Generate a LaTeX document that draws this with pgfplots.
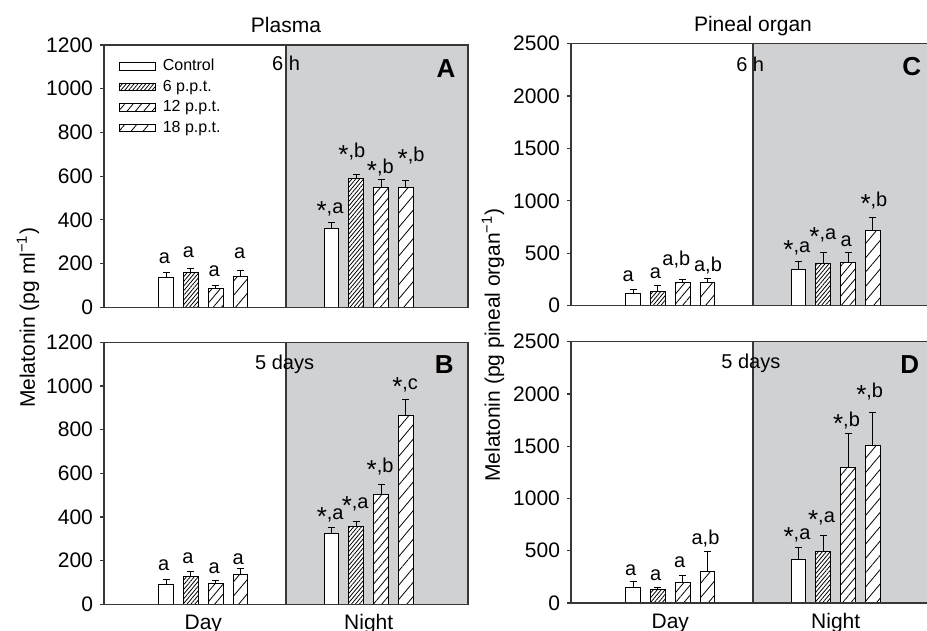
\documentclass[border=0pt]{standalone}
\usepackage{fontspec}
\setmainfont{Liberation Sans}
\usepackage{pgfplots}
\pgfplotsset{compat=1.18}
\usetikzlibrary{patterns.meta}
\definecolor{nightgray}{RGB}{208,209,211}
\definecolor{axgray}{RGB}{55,55,55}
\newcommand{\fs}{\fontsize{10.5}{12}\selectfont}
\newcommand{\fl}{\fontsize{10}{12}\selectfont}
\newcommand{\fp}{\fontsize{13}{15}\selectfont\bfseries}
\newcommand{\st}{\raisebox{-0.3em}{\scalebox{1.3}{*}}}
\tikzset{
  sCtrl/.style={fill=white,draw=black,line width=0.5pt},
  sSix/.style={fill=white,draw=black,line width=0.5pt,postaction={pattern={Lines[angle=50,distance=1.5pt,line width=0.4pt]}}},
  sTwelve/.style={fill=white,draw=black,line width=0.5pt,postaction={pattern={Lines[angle=50,distance=3.2pt,line width=0.4pt]}}},
  sEighteen/.style={fill=white,draw=black,line width=0.5pt,postaction={pattern={Lines[angle=50,distance=4.6pt,line width=0.4pt]}}},
}
\pgfplotsset{
  panel/.style={
    scale only axis, width=182pt, height=131pt,
    xmin=-0.6, xmax=1.6, ymin=0,
    axis line style={axgray, line width=0.6pt},
    tick align=outside, ytick pos=left, major tick length=2pt,
    ytick style={axgray, line width=0.6pt},
    xtick=\empty,
    /pgf/number format/assume math mode=true,
    /pgf/number format/1000 sep={},
    tick label style={font=\fs},
    axis on top, clip=false,
    title style={font=\fs, anchor=base, at={(0.5,1)}, yshift=0pt},
  },
  daynight/.style={
    xtick={0,1}, xticklabels={Day,Night}, xtick style={draw=none},
    xticklabel style={anchor=base, yshift=-10.6pt},
  },
  mybar/.style={
    ybar, bar width=0.09, bar shift=0pt,
    legend image code/.code={\draw[##1] (0pt,-1.8pt) rectangle (18pt,1.8pt); \path (20.5pt,0pt);},
    error bars/y dir=plus, error bars/y explicit,
    error bars/error bar style={black, line width=0.5pt},
    error bars/error mark options={rotate=90, black, line width=0.5pt, mark size=1.75pt},
  },
  labs/.style={
    forget plot, draw=none, mark=none, nodes near coords, point meta=explicit symbolic,
    nodes near coords style={anchor=base, font=\fl, inner sep=0pt},
  },
  night/.style={forget plot, fill=nightgray, draw=axgray, line width=0.6pt},
}
\begin{document}
\begin{tikzpicture}
% ---------------- Panel A
\begin{axis}[panel, at={(52pt,161.85pt)}, anchor=south west, height=131.15pt,
  ymax=1200, ytick={0,200,...,1200}, title={Plasma},
  legend style={at={(0.041,0.955)}, anchor=north west, draw=none, fill=none,
    font=\fontsize{8}{9}\selectfont, row sep=1pt, inner sep=0pt,
    nodes={inner sep=0.75pt, text height=6pt, text depth=1.75pt}},
  legend cell align=left]
\addplot[night] coordinates {(0.5,1200) (1.6,1200)} \closedcycle;
\addplot[mybar, sCtrl] coordinates {(-0.225,137) +- (0,24) (0.775,360) +- (0,26)};
\addlegendentry{Control}
\addplot[mybar, sSix] coordinates {(-0.075,160) +- (0,17) (0.925,587) +- (0,21)};
\addlegendentry{6 p.p.t.}
\addplot[mybar, sTwelve] coordinates {(0.075,88) +- (0,11) (1.075,547) +- (0,37)};
\addlegendentry{12 p.p.t.}
\addplot[mybar, sEighteen] coordinates {(0.225,143) +- (0,24) (1.225,550) +- (0,32)};
\addlegendentry{18 p.p.t.}
\addplot[labs] coordinates {(-0.234,201) [a] (-0.089,227) [a] (0.066,140) [a] (0.22,224) [a]
  (0.766,430) [{\st,a}] (0.898,685) [{\st,b}] (1.07,613) [{\st,b}] (1.256,669) [{\st,b}]};
\node[anchor=base, font=\fl] at (axis cs:0.5,1082) {6 h};
\node[anchor=base, font=\fp] at (axis cs:1.467,1052) {A};
\end{axis}
% ---------------- Panel B
\begin{axis}[panel, daynight, at={(52pt,13.35pt)}, anchor=south west,
  ymax=1200, ytick={0,200,...,1200}]
\addplot[night] coordinates {(0.5,1200) (1.6,1200)} \closedcycle;
\addplot[mybar, sCtrl] coordinates {(-0.225,90) +- (0,25) (0.775,324) +- (0,30)};
\addplot[mybar, sSix] coordinates {(-0.075,128) +- (0,22) (0.925,356) +- (0,24)};
\addplot[mybar, sTwelve] coordinates {(0.075,96) +- (0,11) (1.075,502) +- (0,48)};
\addplot[mybar, sEighteen] coordinates {(0.225,136) +- (0,26) (1.225,863) +- (0,76)};
\addplot[labs] coordinates {(-0.24,154) [a] (-0.092,185) [a] (0.066,142) [a] (0.211,180) [a]
  (0.767,389) [{\st,a}] (0.918,437) [{\st,a}] (1.069,605) [{\st,b}] (1.22,982) [{\st,c}]};
\node[anchor=base, font=\fl] at (axis cs:0.492,1076) {5 days};
\node[anchor=base, font=\fp] at (axis cs:1.456,1058) {B};
\end{axis}
% ---------------- Panel C
\begin{axis}[panel, at={(285.5pt,162.65pt)}, anchor=south west,
  ymax=2500, ytick={0,500,...,2500}, title={Pineal organ}]
\addplot[night] coordinates {(0.5,2500) (1.6,2500)} \closedcycle;
\addplot[mybar, sCtrl] coordinates {(-0.225,118) +- (0,35) (0.775,347) +- (0,76)};
\addplot[mybar, sSix] coordinates {(-0.075,140) +- (0,48) (0.925,398) +- (0,108)};
\addplot[mybar, sTwelve] coordinates {(0.075,223) +- (0,28) (1.075,413) +- (0,96)};
\addplot[mybar, sEighteen] coordinates {(0.225,226) +- (0,38) (1.225,719) +- (0,124)};
\addplot[labs] coordinates {(-0.255,235) [a] (-0.089,261) [a] (0.037,382) [{a,b}] (0.228,324) [{a,b}]
  (0.765,506) [{\st,a}] (0.922,633) [{\st,a}] (1.063,563) [a] (1.231,944) [{\st,b}]};
\node[anchor=base, font=\fl] at (axis cs:0.483,2239) {6 h};
\node[anchor=base, font=\fp] at (axis cs:1.459,2192) {C};
\end{axis}
% ---------------- Panel D
\begin{axis}[panel, daynight, at={(285.5pt,14pt)}, anchor=south west, height=130.65pt,
  ymax=2500, ytick={0,500,...,2500}]
\addplot[night] coordinates {(0.5,2500) (1.6,2500)} \closedcycle;
\addplot[mybar, sCtrl] coordinates {(-0.225,153) +- (0,54) (0.775,418) +- (0,115)};
\addplot[mybar, sSix] coordinates {(-0.075,131) +- (0,19) (0.925,491) +- (0,156)};
\addplot[mybar, sTwelve] coordinates {(0.075,198) +- (0,67) (1.075,1298) +- (0,322)};
\addplot[mybar, sEighteen] coordinates {(0.225,303) +- (0,191) (1.225,1508) +- (0,316)};
\addplot[labs] coordinates {(-0.24,261) [a] (-0.088,214) [a] (0.057,338) [a] (0.213,555) [{a,b}]
  (0.766,609) [{\st,a}] (0.914,769) [{\st,a}] (1.065,1693) [{\st,b}] (1.205,1968) [{\st,b}]};
\node[anchor=base, font=\fl] at (axis cs:0.487,2245) {5 days};
\node[anchor=base, font=\fp] at (axis cs:1.447,2198) {D};
\end{axis}
% y labels
\node[rotate=90, font=\fs] at (14pt,156.5pt) {Melatonin (pg ml\textsuperscript{−1})};
\node[rotate=90, font=\fs] at (246.5pt,143pt) {Melatonin (pg pineal organ\textsuperscript{−1})};
\pgfresetboundingbox
\useasboundingbox (0,0) rectangle (463.5pt,315.5pt);
\end{tikzpicture}
\end{document}
